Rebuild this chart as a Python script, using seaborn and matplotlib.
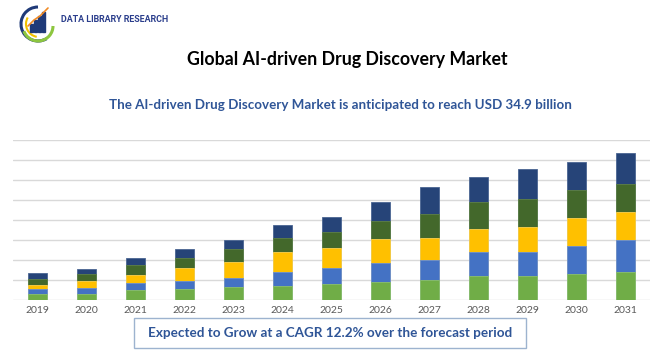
import matplotlib
matplotlib.use("Agg")
import matplotlib.pyplot as plt
import seaborn as sns
import pandas as pd
import numpy as np
from matplotlib.patches import Rectangle, Arc

years = ["2019", "2020", "2021", "2022", "2023", "2024", "2025",
         "2026", "2027", "2028", "2029", "2030", "2031"]
seg1 = [0.53, 0.60, 0.97, 1.10, 1.27, 1.40, 1.57, 1.80, 1.97, 2.33, 2.40, 2.57, 2.77]
seg2 = [0.50, 0.57, 0.70, 0.80, 0.93, 1.33, 1.63, 1.90, 2.03, 2.40, 2.40, 2.80, 3.20]
seg3 = [0.43, 0.73, 0.83, 1.23, 1.53, 2.00, 1.93, 2.37, 2.17, 2.37, 2.47, 2.77, 2.80]
seg4 = [0.60, 0.63, 0.97, 1.07, 1.33, 1.40, 1.60, 1.77, 2.43, 2.73, 2.80, 2.80, 2.77]
seg5 = [0.60, 0.53, 0.73, 0.90, 0.90, 1.30, 1.57, 1.90, 2.73, 2.43, 3.07, 2.90, 3.13]
colors = ["#70AD47", "#4472C4", "#FFC000", "#43682B", "#264478"]
edges = ["#8CC16A", "#6A8FD3", "#FFD24D", "#5E8046", "#4A6592"]

title = "Global AI-driven Drug Discovery Market"
subtitle = "The AI-driven Drug Discovery Market is anticipated to reach USD 34.9 billion"
footer = "Expected to Grow at a CAGR 12.2% over the forecast period"
brand = "DATA LIBRARY RESEARCH"

sns.set_theme(style="white")
plt.rcParams['font.family'] = ['Lato', 'DejaVu Sans']

fig = plt.figure(figsize=(6.7, 3.5), dpi=100)
ax = fig.add_axes([13/670, 1 - 299.5/350, 637/670, 159.5/350])

df = pd.DataFrame({"year": years, "s1": seg1, "s2": seg2, "s3": seg3, "s4": seg4, "s5": seg5})
segs = ["s1", "s2", "s3", "s4", "s5"]
cum = df[segs].cumsum(axis=1)
for i in reversed(range(5)):
    sns.barplot(x=df["year"], y=cum[segs[i]], color=colors[i], width=0.4,
                edgecolor=edges[i], linewidth=0.6, saturation=1, ax=ax, zorder=3)

ax.set_ylim(0, 16)
ax.set_xlim(-0.5, 12.5)
ax.set_yticks(np.arange(0, 17, 2))
ax.set_yticklabels([])
ax.yaxis.grid(True, color="#D9D9D9", linewidth=1.0)
ax.set_axisbelow(True)
ax.set_xlabel("")
ax.set_ylabel("")
for s in ax.spines.values():
    s.set_visible(False)
ax.tick_params(axis="x", length=0, pad=5, labelsize=7.5, labelcolor="#595959")
ax.tick_params(axis="y", length=0)

fig.text(347/670, 1 - 60/350, title, ha="center", va="center", fontsize=12.8,
         fontweight="bold", color="#000000")
fig.text(340/670, 1 - 105/350, subtitle, ha="center", va="center", fontsize=9.65,
         fontweight="bold", color="#2F5597")

box = Rectangle((134/670, 1 - 348/350), 392/670, 30/350, transform=fig.transFigure,
                facecolor="white", edgecolor="#9DB3CF", linewidth=1.0)
fig.add_artist(box)
fig.text(330/670, 1 - 333/350, footer, ha="center", va="center", fontsize=9.7,
         fontweight="bold", color="#2F5597")

# logo
lax = fig.add_axes([18/670, 1 - 44/350, 40/670, 40/350])
lax.set_xlim(0, 40)
lax.set_ylim(0, 40)
lax.axis("off")
lax.add_patch(Arc((20, 20), 34, 34, theta1=90, theta2=300, color="#1F3A78", linewidth=2.2))
lax.add_patch(Arc((20, 18), 30, 30, theta1=200, theta2=360, color="#8DC63F", linewidth=2.2))
lax.add_patch(Arc((21, 20), 26, 26, theta1=150, theta2=260, color="#F2C200", linewidth=1.5))
for bx, bh in zip([12, 16, 20, 24], [8, 12, 16, 20]):
    lax.add_patch(Rectangle((bx, 12), 3, bh, color="#1F3A78"))
lax.plot([10, 16, 22, 30], [18, 24, 28, 36], color="#F08A24", linewidth=1.2)
fig.text(61/670, 1 - 20/350, brand, ha="left", va="center", fontsize=6.4,
         fontweight="bold", color="#2B3E8C",
         family=["Roboto", "DejaVu Sans"])

fig.savefig("out.png", dpi=100)
